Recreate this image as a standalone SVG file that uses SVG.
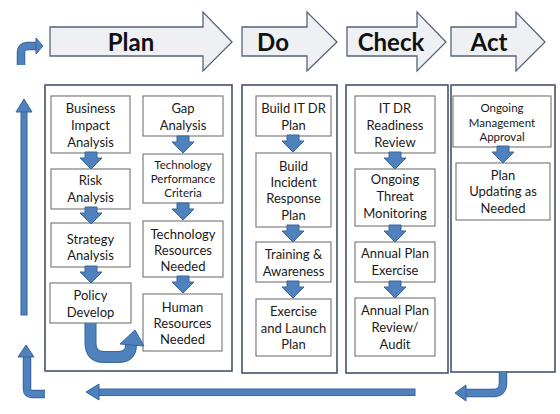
<svg xmlns="http://www.w3.org/2000/svg" width="560" height="414" viewBox="0 0 560 414">
<defs>
<style>
.hdr{fill:#eef0f4;stroke:#56647a;stroke-width:1.3}
.pnl{fill:#fff;stroke:#44546a;stroke-width:1.6}
.box{fill:#fff;stroke:#7f7f7f;stroke-width:1.2}
.t{font-family:Lato,"Noto Sans",sans-serif;font-size:13px;fill:#1a1a1a;text-anchor:middle}
.s{font-size:11.5px}
.h{font-family:Lato,"Noto Sans",sans-serif;font-size:24px;font-weight:bold;fill:#111;text-anchor:middle}
.da{fill:#4f81bd;stroke:#3a659a;stroke-width:1}
.sh{fill:none;stroke:#4f81bd;stroke-linejoin:round}
.ah{fill:#4f81bd;stroke:#3a659a;stroke-width:1}
</style>
<path id="down" d="M-6,-1 H6 V5 H11 L0,16 L-11,5 H-6 Z"/>
</defs>
<rect width="560" height="414" fill="#fff"/>

<g id="headers">
<g id="hdr-plan"><path class="hdr" d="M50,27 H203 V12 L232,42 L203,71 V56 H50 Z"/><text class="h" x="131" y="50.5">Plan</text></g>
<g id="hdr-do"><path class="hdr" d="M242,27 H307 V12 L337,42 L307,71 V56 H242 Z"/><text class="h" x="273" y="50.5">Do</text></g>
<g id="hdr-check"><path class="hdr" d="M347,27 H417 V12 L446,42 L417,71 V56 H347 Z"/><text class="h" x="391" y="50.5">Check</text></g>
<g id="hdr-act"><path class="hdr" d="M451,27 H516 V12 L545,42 L516,71 V56 H451 Z"/><text class="h" x="489" y="50.5">Act</text></g>
</g>

<g id="panels">
<rect id="panel-plan" class="pnl" x="45" y="85" width="187" height="286"/>
<rect id="panel-do" class="pnl" x="242" y="85" width="95" height="288"/>
<rect id="panel-check" class="pnl" x="346" y="85" width="102" height="288"/>
<rect id="panel-act" class="pnl" x="451" y="85" width="104" height="287"/>
</g>

<g id="bia"><rect class="box" x="51" y="96" width="79" height="57"/><text class="t" x="90.5" y="112.5">Business</text><text class="t" x="90.5" y="129.5">Impact</text><text class="t" x="90.5" y="146.5">Analysis</text></g>
<g id="risk"><rect class="box" x="51" y="169" width="79" height="40"/><text class="t" x="90.5" y="184.5">Risk</text><text class="t" x="90.5" y="201.5">Analysis</text></g>
<g id="strategy"><rect class="box" x="51" y="223" width="79" height="44"/><text class="t" x="90.5" y="243.5">Strategy</text><text class="t" x="90.5" y="259.5">Analysis</text></g>
<g id="policy"><rect class="box" x="50" y="283" width="81" height="40"/><text class="t" x="90.5" y="299.5">Policy</text><text class="t" x="90.5" y="317">Develop</text></g>
<g id="gap"><rect class="box" x="143" y="96" width="80" height="40"/><text class="t" x="183" y="112.5">Gap</text><text class="t" x="183" y="129.5">Analysis</text></g>
<g id="tpc"><rect class="box" x="143" y="154" width="80" height="49"/><text class="t s" x="183" y="169">Technology</text><text class="t s" x="183" y="183">Performance</text><text class="t s" x="183" y="197">Criteria</text></g>
<g id="trn"><rect class="box" x="143" y="221" width="80" height="56"/><text class="t" x="183" y="238.5">Technology</text><text class="t" x="183" y="254.5">Resources</text><text class="t" x="183" y="270.5">Needed</text></g>
<g id="hrn"><rect class="box" x="143" y="294" width="79" height="57"/><text class="t" x="182.5" y="311.5">Human</text><text class="t" x="182.5" y="327.5">Resources</text><text class="t" x="182.5" y="343.5">Needed</text></g>

<g id="build-dr"><rect class="box" x="256" y="96" width="75" height="40"/><text class="t" x="293.5" y="112.5">Build IT DR</text><text class="t" x="293.5" y="129.5">Plan</text></g>
<g id="build-ir"><rect class="box" x="256" y="153" width="75" height="74"/><text class="t" x="293.5" y="170.5">Build</text><text class="t" x="293.5" y="186.5">Incident</text><text class="t" x="293.5" y="203">Response</text><text class="t" x="293.5" y="219.5">Plan</text></g>
<g id="training"><rect class="box" x="256" y="242" width="75" height="40"/><text class="t" x="293.5" y="258.5">Training &amp;</text><text class="t" x="293.5" y="275.5">Awareness</text></g>
<g id="exercise"><rect class="box" x="256" y="299" width="75" height="57"/><text class="t" x="293.5" y="315.5">Exercise</text><text class="t" x="293.5" y="332.5">and Launch</text><text class="t" x="293.5" y="348.5">Plan</text></g>

<g id="readiness"><rect class="box" x="355" y="96" width="80" height="57"/><text class="t" x="395" y="112.5">IT DR</text><text class="t" x="395" y="129.5">Readiness</text><text class="t" x="395" y="146.5">Review</text></g>
<g id="threat"><rect class="box" x="355" y="169" width="80" height="57"/><text class="t" x="395" y="183.5">Ongoing</text><text class="t" x="395" y="201">Threat</text><text class="t" x="395" y="217.5">Monitoring</text></g>
<g id="annual-ex"><rect class="box" x="355" y="242" width="80" height="40"/><text class="t" x="395" y="257.5">Annual Plan</text><text class="t" x="395" y="275">Exercise</text></g>
<g id="annual-rev"><rect class="box" x="355" y="298" width="80" height="58"/><text class="t" x="395" y="314.5">Annual Plan</text><text class="t" x="395" y="332">Review/</text><text class="t" x="395" y="349">Audit</text></g>

<g id="mgmt"><rect class="box" x="453" y="96" width="98" height="51"/><text class="t s" x="502" y="112">Ongoing</text><text class="t s" x="502" y="126.5">Management</text><text class="t s" x="502" y="141">Approval</text></g>
<g id="updating"><rect class="box" x="456" y="163" width="94" height="57"/><text class="t" x="503" y="179.5">Plan</text><text class="t" x="503" y="196">Updating as</text><text class="t" x="503" y="212.5">Needed</text></g>

<g id="connectors">
<use href="#down" class="da" x="91" y="153"/>
<use href="#down" class="da" x="91" y="208"/>
<use href="#down" class="da" x="91" y="267"/>
<use href="#down" class="da" x="183" y="137"/>
<use href="#down" class="da" x="183" y="204"/>
<use href="#down" class="da" x="183" y="277"/>
<use href="#down" class="da" x="293" y="136"/>
<use href="#down" class="da" x="293" y="226"/>
<use href="#down" class="da" x="293" y="282"/>
<use href="#down" class="da" x="395" y="153"/>
<use href="#down" class="da" x="395" y="226"/>
<use href="#down" class="da" x="395" y="282"/>
<use href="#down" class="da" x="503" y="147"/>

<path d="M90.5,323 V343 Q90.5,357 104,357 H118 Q131,357 131,345 V343" fill="none" stroke="#3a659a" stroke-width="12"/>
<path d="M90.5,323 V343 Q90.5,357 104,357 H118 Q131,357 131,345 V342" class="sh" stroke-width="10"/>
<path class="ah" d="M120,344 L135,330 L144,346 Z"/>

<path d="M503,372 V383 Q503,393 493,393 H466" fill="none" stroke="#3a659a" stroke-width="8.5"/>
<path d="M503,372 V383 Q503,393 493,393 H465" class="sh" stroke-width="6.5"/>
<path class="ah" d="M466,385 L455,393 L466,401 Z"/>

<rect x="98" y="389" width="317" height="6.5" fill="#4f81bd" stroke="#3a659a" stroke-width="1"/>
<path class="ah" d="M99,384 L86,392 L99,400 Z"/>

<path d="M45,394 H32 Q27,394 27,389 V357" fill="none" stroke="#3a659a" stroke-width="8.5"/>
<path d="M45,394 H32 Q27,394 27,389 V356" class="sh" stroke-width="6.5"/>
<path class="ah" d="M18,357 L26,345 L34,357 Z"/>

<rect x="21" y="111" width="6" height="204" fill="#4f81bd" stroke="#3a659a" stroke-width="1"/>
<path class="ah" d="M16,112 L24,99 L32,112 Z"/>

<path d="M21,65 V53 Q21,46 28,46 H36" fill="none" stroke="#3a659a" stroke-width="8.5"/>
<path d="M21,65 V53 Q21,46 28,46 H37" class="sh" stroke-width="6.5"/>
<path class="ah" d="M36,38 L43,46 L36,54 Z"/>
</g>
</svg>
